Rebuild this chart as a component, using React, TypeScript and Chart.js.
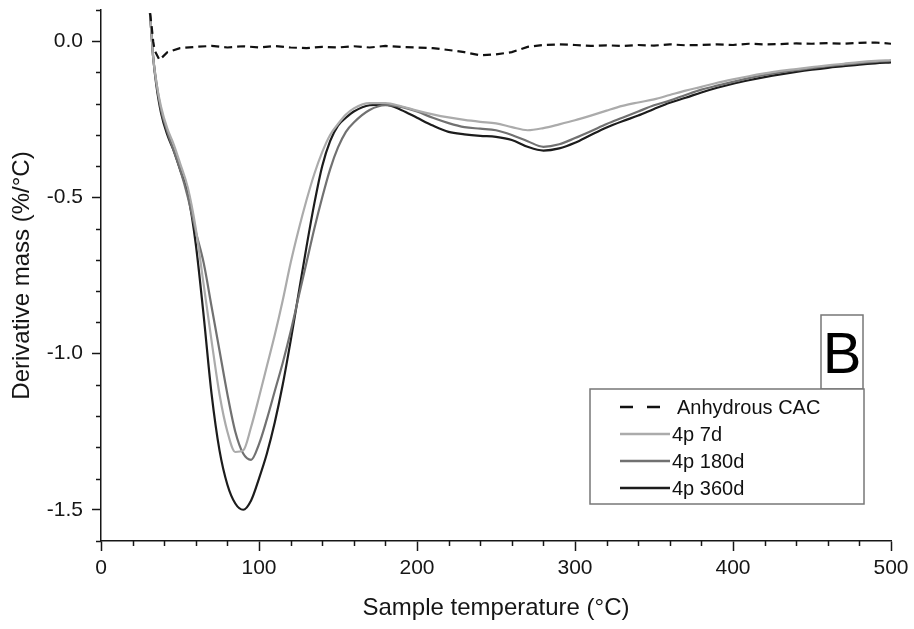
import React, { useEffect, useRef } from 'react';
import { Chart, registerables } from 'chart.js';

Chart.register(...registerables);

const FONT = '"Liberation Sans", Arial, Helvetica, sans-serif';

// ---------- data ----------
const temps = [
  31, 32, 33, 35, 38, 42, 46, 50, 55, 60, 65, 70, 75, 80, 85, 90, 95, 100, 105, 110,
  115, 120, 125, 130, 135, 140, 145, 150, 155, 160, 170, 180, 190, 200, 210, 220, 230, 240, 250, 260,
  270, 280, 290, 300, 310, 320, 330, 340, 350, 360, 370, 380, 390, 400, 410, 420, 430, 440, 450, 460,
  470, 480, 490, 500,
];

const mass7d = [
  0.09, 0.02, -0.05, -0.13, -0.21, -0.28, -0.33, -0.39, -0.47, -0.6, -0.78, -0.96, -1.13, -1.25, -1.315, -1.31, -1.235, -1.14, -1.04, -0.94,
  -0.83, -0.71, -0.605, -0.51, -0.425, -0.355, -0.3, -0.265, -0.235, -0.215, -0.198, -0.198, -0.208, -0.222, -0.234, -0.244, -0.252, -0.258, -0.263, -0.275,
  -0.285, -0.278, -0.266, -0.253, -0.238, -0.222, -0.207, -0.196, -0.186, -0.172, -0.158, -0.146, -0.133, -0.122, -0.112, -0.103, -0.095, -0.089, -0.083, -0.077,
  -0.072, -0.067, -0.063, -0.06,
];

const mass180d = [
  0.09, 0.02, -0.05, -0.13, -0.22, -0.29, -0.35, -0.41, -0.5, -0.61, -0.71, -0.85, -0.99, -1.13, -1.25, -1.32, -1.34, -1.29, -1.21, -1.12,
  -1.03, -0.93, -0.82, -0.71, -0.6, -0.5, -0.41, -0.34, -0.29, -0.26, -0.22, -0.205, -0.21, -0.225, -0.245, -0.262, -0.275, -0.28, -0.285, -0.3,
  -0.32, -0.338, -0.33, -0.31, -0.288, -0.265, -0.245, -0.225, -0.205, -0.19, -0.172, -0.155, -0.142, -0.13, -0.118, -0.108, -0.1, -0.093, -0.086, -0.08,
  -0.075, -0.07, -0.066, -0.063,
];

const mass360d = [
  0.09, 0.02, -0.05, -0.14, -0.23, -0.3, -0.35, -0.41, -0.49, -0.65, -0.88, -1.13, -1.31, -1.42, -1.48, -1.5, -1.47, -1.4, -1.32, -1.22,
  -1.1, -0.96, -0.81, -0.66, -0.52, -0.4, -0.32, -0.27, -0.245, -0.225, -0.205, -0.203, -0.22, -0.245, -0.27, -0.29, -0.298, -0.303, -0.306, -0.316,
  -0.338, -0.35, -0.343, -0.325, -0.3, -0.276, -0.256, -0.238, -0.217, -0.197, -0.181, -0.164, -0.149, -0.136, -0.125, -0.115, -0.106, -0.098, -0.091, -0.085,
  -0.08, -0.075, -0.071, -0.068,
];

const anhydrousTemps = [
  31, 32, 33, 34, 37, 42, 50, 60, 70, 80, 90, 100, 110, 120, 130, 140, 150, 160, 170, 180,
  190, 200, 210, 220, 230, 240, 250, 260, 270, 280, 290, 300, 310, 320, 330, 340, 350, 360, 370, 380,
  390, 400, 410, 420, 430, 440, 450, 460, 470, 480, 490, 500,
];
const anhydrousMass = [
  0.09, 0.05, 0.0, -0.03, -0.06, -0.035, -0.022, -0.018, -0.015, -0.02, -0.016, -0.02, -0.015, -0.02, -0.022, -0.018, -0.02, -0.016, -0.02, -0.015,
  -0.018, -0.02, -0.022, -0.028, -0.035, -0.045, -0.042, -0.035, -0.018, -0.012, -0.01, -0.012, -0.015, -0.013, -0.015, -0.012, -0.014, -0.01, -0.013, -0.012,
  -0.01, -0.012, -0.008, -0.01, -0.009, -0.007, -0.008, -0.006, -0.008, -0.005, -0.004, -0.008,
];

const seriesLabels = ['Anhydrous CAC', '4p 7d', '4p 180d', '4p 360d'];
const panelLabel = 'B';

const X_MIN = 0;
const X_MAX = 500;
const Y_MIN = -1.6;
const Y_MAX = 0.1;
const xMajorTicks = [0, 100, 200, 300, 400, 500];
const xMinorStep = 20;
const yMajorTicks = [-1.5, -1.0, -0.5, 0.0];
const yMinorStep = 0.1;

// ---------- helpers ----------
const toPoints = (xs: number[], ys: number[]) => xs.map((x, i) => ({ x, y: ys[i] }));

function buildTicks(min: number, max: number, step: number) {
  const n = Math.round((max - min) / step);
  const out: { value: number }[] = [];
  for (let i = 0; i <= n; i++) out.push({ value: +(min + i * step).toFixed(6) });
  return out;
}
const isMajor = (v: number, majors: number[]) => majors.some((m) => Math.abs(m - v) < 1e-6);

const INK = '#161616';

const minorTickPlugin = {
  id: 'minorTicks',
  afterDraw(chart: any) {
    const { ctx, chartArea, scales } = chart;
    ctx.save();
    ctx.strokeStyle = INK;
    ctx.lineWidth = 1.5;
    const xs = scales.x;
    xs.ticks.forEach((t: any) => {
      if (isMajor(t.value, xMajorTicks)) return;
      const px = Math.round(xs.getPixelForValue(t.value)) + 0.5;
      ctx.beginPath();
      ctx.moveTo(px, chartArea.bottom);
      ctx.lineTo(px, chartArea.bottom + 5);
      ctx.stroke();
    });
    const ys = scales.y;
    ys.ticks.forEach((t: any) => {
      if (isMajor(t.value, yMajorTicks)) return;
      const py = Math.round(ys.getPixelForValue(t.value)) + 0.5;
      ctx.beginPath();
      ctx.moveTo(chartArea.left, py);
      ctx.lineTo(chartArea.left - 5, py);
      ctx.stroke();
    });
    ctx.restore();
  },
};

const legendPlugin = {
  id: 'boxLegend',
  afterDraw(chart: any) {
    const { ctx } = chart;
    ctx.save();
    // panel label box
    ctx.fillStyle = '#fff';
    ctx.strokeStyle = '#777';
    ctx.lineWidth = 1.5;
    ctx.fillRect(821, 315, 42, 74);
    ctx.strokeRect(821, 315, 42, 74);
    ctx.fillStyle = '#000';
    ctx.font = `58px ${FONT}`;
    ctx.textAlign = 'center';
    ctx.textBaseline = 'alphabetic';
    ctx.fillText(panelLabel, 842, 373);

    // legend box
    ctx.fillStyle = '#fff';
    ctx.fillRect(590, 389, 274, 115);
    ctx.strokeStyle = '#777';
    ctx.strokeRect(590, 389, 274, 115);

    const rows = [407, 434, 461, 488];
    chart.data.datasets.forEach((ds: any, i: number) => {
      const y = rows[i];
      ctx.strokeStyle = ds.borderColor;
      ctx.lineWidth = 2.5;
      ctx.setLineDash(ds.borderDash && ds.borderDash.length ? [13, 14] : []);
      ctx.beginPath();
      ctx.moveTo(620, y);
      ctx.lineTo(670, y);
      ctx.stroke();
      ctx.setLineDash([]);
      ctx.fillStyle = '#111';
      ctx.font = `20px ${FONT}`;
      ctx.textAlign = 'left';
      ctx.textBaseline = 'middle';
      ctx.fillText(ds.label, i === 0 ? 677 : 672, y + 1);
    });
    ctx.restore();
  },
};

export default function App() {
  const canvasRef = useRef<HTMLCanvasElement | null>(null);

  useEffect(() => {
    if (!canvasRef.current) return;
    const chart = new Chart(canvasRef.current, {
      type: 'line',
      data: {
        datasets: [
          {
            label: seriesLabels[0],
            data: toPoints(anhydrousTemps, anhydrousMass),
            borderColor: '#111111',
            borderWidth: 2.2,
            borderDash: [8, 5],
            pointRadius: 0,
            tension: 0,
          },
          {
            label: seriesLabels[1],
            data: toPoints(temps, mass7d),
            borderColor: '#ababab',
            borderWidth: 2.2,
            pointRadius: 0,
            cubicInterpolationMode: 'monotone',
          },
          {
            label: seriesLabels[2],
            data: toPoints(temps, mass180d),
            borderColor: '#717171',
            borderWidth: 2.2,
            pointRadius: 0,
            cubicInterpolationMode: 'monotone',
          },
          {
            label: seriesLabels[3],
            data: toPoints(temps, mass360d),
            borderColor: '#1c1c1c',
            borderWidth: 2.2,
            pointRadius: 0,
            cubicInterpolationMode: 'monotone',
          },
        ],
      },
      options: {
        animation: false,
        responsive: true,
        maintainAspectRatio: false,
        parsing: false,
        layout: { padding: { left: 0, right: 23, top: 10, bottom: 0 } },
        plugins: {
          legend: { display: false },
          tooltip: { enabled: false },
        },
        scales: {
          x: {
            type: 'linear',
            min: X_MIN,
            max: X_MAX,
            afterBuildTicks: (s: any) => {
              s.ticks = buildTicks(X_MIN, X_MAX, xMinorStep);
            },
            afterFit: (s: any) => {
              s.height = 88;
            },
            ticks: {
              autoSkip: false,
              maxRotation: 0,
              padding: 5,
              color: INK,
              font: { family: FONT, size: 21 },
              callback: (v: any) => (isMajor(Number(v), xMajorTicks) ? String(Math.round(Number(v))) : ''),
            },
            grid: {
              drawOnChartArea: false,
              drawTicks: true,
              tickLength: 10,
              tickWidth: 1.5,
              tickColor: (c: any) => (c.tick && isMajor(c.tick.value, xMajorTicks) ? INK : 'rgba(0,0,0,0)'),
            },
            border: { display: true, color: INK, width: 1.5 },
            title: {
              display: true,
              text: 'Sample temperature (°C)',
              color: INK,
              font: { family: FONT, size: 24 },
              padding: { top: 0, bottom: 6 },
            },
          },
          y: {
            type: 'linear',
            min: Y_MIN,
            max: Y_MAX,
            afterBuildTicks: (s: any) => {
              s.ticks = buildTicks(Y_MIN, Y_MAX, yMinorStep);
            },
            afterFit: (s: any) => {
              s.width = 101;
              s.paddingTop = 0;
            },
            ticks: {
              autoSkip: false,
              padding: 9,
              color: INK,
              font: { family: FONT, size: 21 },
              callback: (v: any) => (isMajor(Number(v), yMajorTicks) ? Number(v).toFixed(1) : ''),
            },
            grid: {
              drawOnChartArea: false,
              drawTicks: true,
              tickLength: 9,
              tickWidth: 1.5,
              tickColor: (c: any) => (c.tick && isMajor(c.tick.value, yMajorTicks) ? INK : 'rgba(0,0,0,0)'),
            },
            border: { display: true, color: INK, width: 1.5 },
            title: {
              display: true,
              text: 'Derivative mass (%/°C)',
              color: INK,
              font: { family: FONT, size: 24 },
              padding: { top: 8, bottom: 0 },
            },
          },
        },
      },
      plugins: [minorTickPlugin, legendPlugin],
    } as any);
    return () => chart.destroy();
  }, []);

  return (
    <div style={{ position: 'absolute', left: 0, top: 0, width: 914, height: 629, background: '#fff' }}>
      <canvas ref={canvasRef} />
    </div>
  );
}
